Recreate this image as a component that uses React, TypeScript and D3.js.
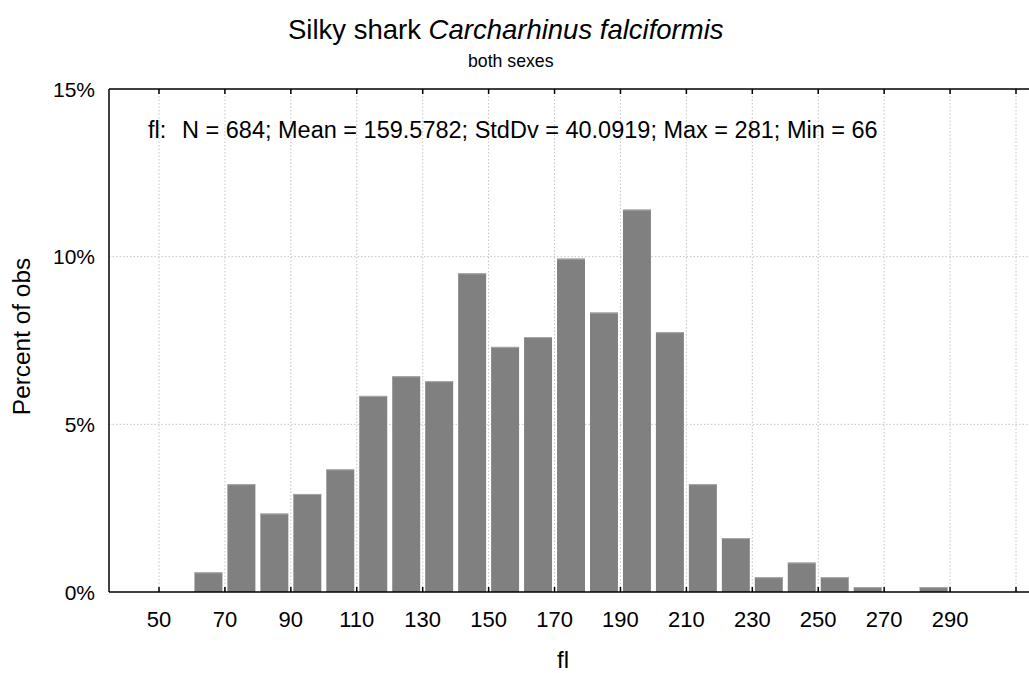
import React from "react";
import * as d3 from "d3";

// Fork length histogram: bin lower edges (cm) and counts per 10 cm bin
const binStarts = [60, 70, 80, 90, 100, 110, 120, 130, 140, 150, 160, 170, 180, 190, 200, 210, 220, 230, 240, 250, 260, 270, 280];
const counts = [4, 22, 16, 20, 25, 40, 44, 43, 65, 50, 52, 68, 57, 78, 53, 22, 11, 3, 6, 3, 1, 0, 1];
const totalN = 684;
const binWidth = 10;

const xTicks = [50, 70, 90, 110, 130, 150, 170, 190, 210, 230, 250, 270, 290, 310];
const xTickLabels = ["50", "70", "90", "110", "130", "150", "170", "190", "210", "230", "250", "270", "290", ""];
const yTicks = [0, 5, 10, 15];
const yGrid = [5, 10];

const titleRoman = "Silky shark ";
const titleItalic = "Carcharhinus falciformis";
const subtitle = "both sexes";
const statsVar = "fl:";
const statsText = "N = 684; Mean = 159.5782; StdDv = 40.0919; Max = 281; Min = 66";
const xTitle = "fl";
const yTitle = "Percent of obs";

const W = 1029;
const H = 673;
const FONT = "'Liberation Sans', Arial, Helvetica, sans-serif";

export default function App() {
  const left = 109;
  const top = 89;
  const bottom = 592;
  const x = d3.scaleLinear().domain([50, 310]).range([159, 1016]);
  const y = d3.scaleLinear().domain([0, 15]).range([bottom, top]);
  const right = x(325);

  const pct = counts.map((c) => (c / totalN) * 100);
  const inset = 2.5;

  return (
    <svg
      width={W}
      height={H}
      style={{ position: "absolute", left: 0, top: 0, background: "#fff", overflow: "hidden" }}
      fontFamily={FONT}
    >
      <rect x={0} y={0} width={W} height={H} fill="#fff" />
      {/* grid */}
      {xTicks.map((t) => (
        <line key={"gx" + t} x1={x(t)} x2={x(t)} y1={top} y2={bottom} stroke="#c4c4c4" strokeWidth={1} strokeDasharray="1.5,2" />
      ))}
      {yGrid.map((t) => (
        <line key={"gy" + t} x1={left} x2={right} y1={y(t)} y2={y(t)} stroke="#c4c4c4" strokeWidth={1} strokeDasharray="1.5,2" />
      ))}
      {/* bars */}
      {binStarts.map((b, i) =>
        pct[i] > 0 ? (
          <g key={"b" + b}>
            <rect
              x={x(b) + inset}
              y={y(pct[i])}
              width={x(b + binWidth) - x(b) - 2 * inset}
              height={bottom - y(pct[i])}
              fill="#808080"
            />
            <line x1={x(b) + inset} x2={x(b + binWidth) - inset} y1={y(pct[i]) + 0.5} y2={y(pct[i]) + 0.5} stroke="#a8a8a8" strokeWidth={1} />
          </g>
        ) : null
      )}
      {/* frame */}
      <line x1={left} x2={right} y1={top} y2={top} stroke="#000" strokeWidth={1.5} />
      <line x1={left} x2={right} y1={bottom} y2={bottom} stroke="#000" strokeWidth={1.5} />
      <line x1={left} x2={left} y1={top} y2={bottom} stroke="#000" strokeWidth={1.5} />
      {/* ticks */}
      {xTicks.map((t) => (
        <g key={"t" + t}>
          <line x1={x(t)} x2={x(t)} y1={bottom} y2={bottom - 5} stroke="#000" strokeWidth={1.5} />
          <line x1={x(t)} x2={x(t)} y1={top} y2={top + 5} stroke="#000" strokeWidth={1.5} />
        </g>
      ))}
      {xTicks.map((t, i) => (
        <text key={"xl" + t} x={x(t)} y={627} textAnchor="middle" fontSize={22} fill="#000">
          {xTickLabels[i]}
        </text>
      ))}
      {yTicks.map((t) => (
        <text key={"yl" + t} x={95} y={y(t) + 7.5} textAnchor="end" fontSize={21} fill="#000">
          {t + "%"}
        </text>
      ))}
      {/* titles */}
      <text x={288} y={39} fontSize={27.5} fill="#000" style={{ whiteSpace: "pre" }}>
        {titleRoman}
        <tspan fontStyle="italic">{titleItalic}</tspan>
      </text>
      <text x={468} y={67} fontSize={17.7} fill="#000">
        {subtitle}
      </text>
      <text x={148} y={138} fontSize={23.5} fill="#000">
        {statsVar}
      </text>
      <text x={182} y={138} fontSize={23.5} fill="#000">
        {statsText}
      </text>
      <text x={563} y={668} textAnchor="middle" fontSize={24} fill="#000">
        {xTitle}
      </text>
      <text transform={`translate(30,336.5) rotate(-90)`} textAnchor="middle" fontSize={24.4} fill="#000">
        {yTitle}
      </text>
    </svg>
  );
}
